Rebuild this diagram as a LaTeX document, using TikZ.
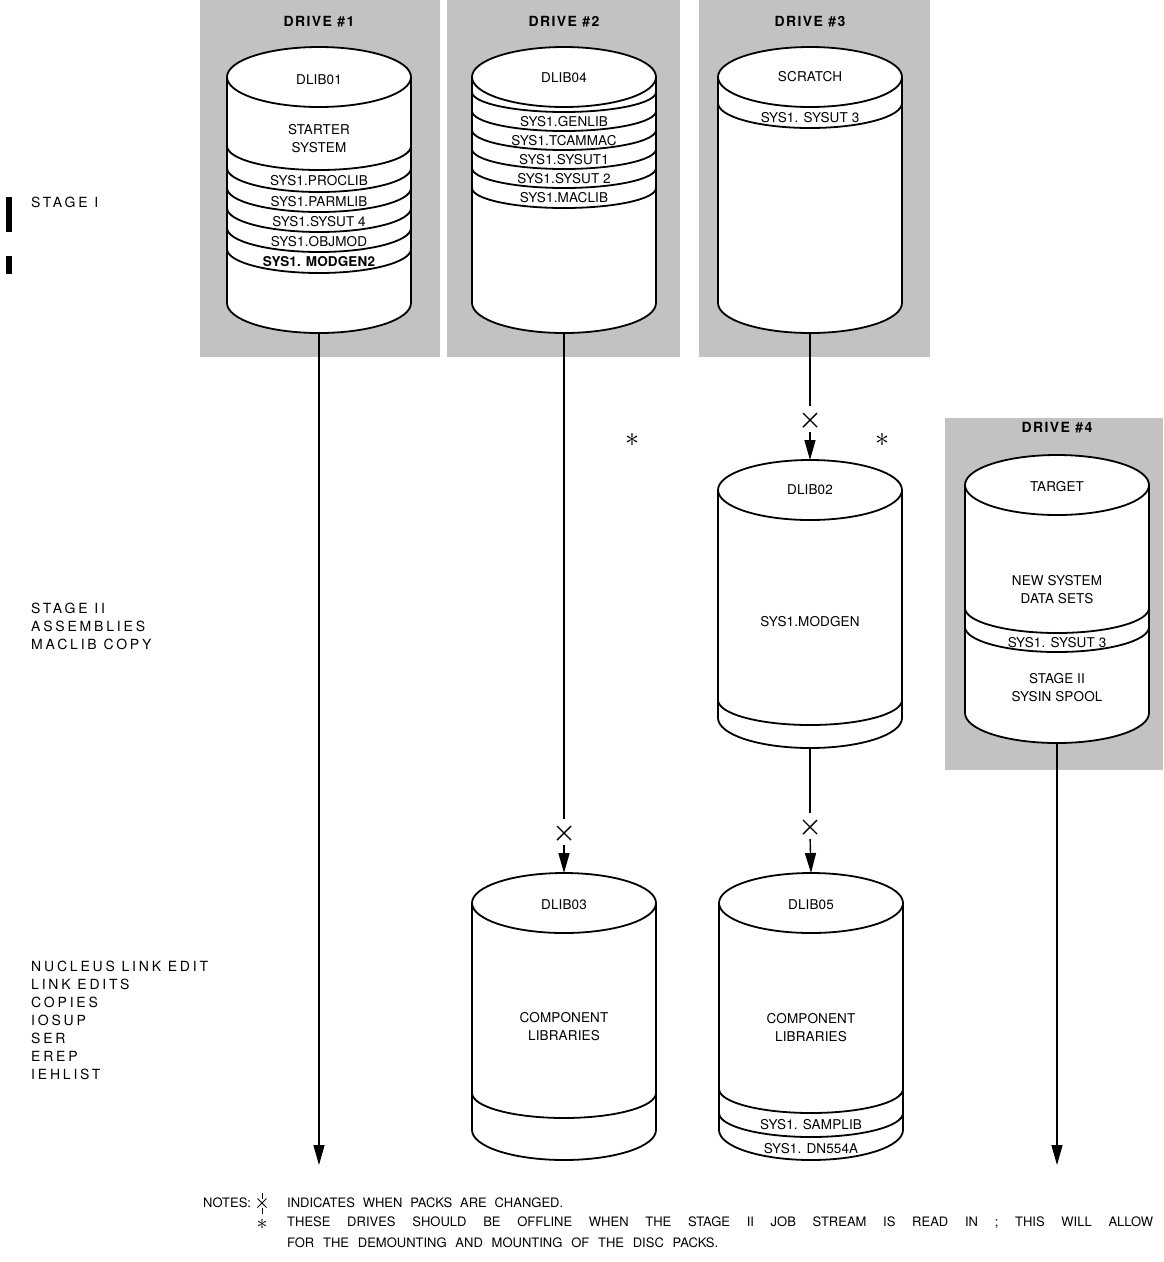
\documentclass[tikz,border=0pt]{standalone}
\usepackage{fontspec}
\setmainfont{TeX Gyre Heros}
\newfontfamily\lblfont[LetterSpace=20]{TeX Gyre Heros}
\newfontfamily\dskfont[LetterSpace=1]{TeX Gyre Heros}
\newfontfamily\drvfont[LetterSpace=10]{TeX Gyre Heros}
\usetikzlibrary{arrows.meta,shapes.misc}

\tikzset{
  drive/.style={fill=black!24},
  drumline/.style={line width=1.8pt},
  dsk/.style={font=\dskfont\fontsize{13.5}{18}\selectfont, align=center, inner sep=0pt},
  drv/.style={font=\drvfont\bfseries\fontsize{14}{16}\selectfont, inner sep=0pt},
  lbl/.style={anchor=west, align=left, inner sep=0pt, font=\lblfont\fontsize{14}{18}\selectfont},
  note/.style={anchor=west, inner sep=0pt, font=\fontsize{13}{15}\selectfont},
  link/.style={line width=1.4pt, shorten >=7pt},
  flow/.style={line width=1.4pt, -{Triangle[length=20pt,width=11pt]}},
  chg/.style={draw, cross out, line width=1.4pt, minimum size=14pt, inner sep=0pt, outer sep=0pt},
  ast/.style={inner sep=0pt}
}

\newcommand{\drum}[4]{%
  \filldraw[drumline,fill=white] (#2-92,-#3) -- (#2-92,-#4)
    arc[start angle=180,end angle=360,x radius=92,y radius=30] -- (#2+92,-#3)
    arc[start angle=0,end angle=180,x radius=92,y radius=30];
  \draw[drumline] (#2-92,-#3) arc[start angle=180,end angle=360,x radius=92,y radius=30];
  \coordinate (#1top) at (#2,-#3+30);
  \coordinate (#1bot) at (#2,-#4-30);
}
\newcommand{\band}[3]{%
  \draw[drumline] (#1-92,-#2) arc[start angle=180,end angle=360,x radius=92,y radius=#3];
}

\begin{document}
\begin{tikzpicture}[x=1pt,y=1pt]
\useasboundingbox (0,0) rectangle (1163,-1262);

\fill[drive] (200,0) rectangle (440,-357);
\fill[drive] (447,0) rectangle (680,-357);
\fill[drive] (699,0) rectangle (930,-357);
\fill[drive] (945,-418) rectangle (1163,-770);

\node[drv] (h1) at (319,-22) {DRIVE \#1};
\node[drv] (h2) at (564,-22) {DRIVE \#2};
\node[drv] (h3) at (810,-22) {DRIVE \#3};
\node[drv] (h4) at (1057,-428) {DRIVE \#4};

\fill (6,-197) rectangle (12,-232);
\fill (6,-256) rectangle (12,-274);
\node[lbl] (s1) at (31,-202) {STAGE I};
\node[lbl] (s2) at (31,-626) {STAGE II\\ASSEMBLIES\\MACLIB COPY};
\node[lbl] (s3) at (31,-1020) {NUCLEUS LINK EDIT\\LINK EDITS\\COPIES\\IOSUP\\SER\\EREP\\IEHLIST};

\drum{c1}{319}{77}{303}
\foreach \y in {146,168,188,208,228,249} {\band{319}{\y}{24}}
\node[dsk] (n1) at (319,-80) {DLIB01};
\node[dsk] (n1a) at (319,-139) {STARTER\\SYSTEM};
\node[dsk] (n1b) at (319,-181) {SYS1.PROCLIB};
\node[dsk] (n1c) at (319,-202) {SYS1.PARMLIB};
\node[dsk] (n1d) at (319,-222) {SYS1.SYSUT 4};
\node[dsk] (n1e) at (319,-242) {SYS1.OBJMOD};
\node[dsk,font=\dskfont\bfseries\fontsize{13.5}{18}\selectfont] (n1f) at (319,-262) {SYS1. MODGEN2};

\drum{c2}{564}{77}{303}
\foreach \y in {92,111,130,149,168,188} {\band{564}{\y}{20}}
\node[dsk] (n2) at (564,-78) {DLIB04};
\node[dsk] (n2a) at (564,-121.5) {SYS1.GENLIB};
\node[dsk] (n2b) at (564,-140.5) {SYS1.TCAMMAC};
\node[dsk] (n2c) at (564,-159.5) {SYS1.SYSUT1};
\node[dsk] (n2d) at (564,-178.5) {SYS1.SYSUT 2};
\node[dsk] (n2e) at (564,-198) {SYS1.MACLIB};

\drum{c3}{810}{77}{303}
\band{810}{103}{25}
\node[dsk] (n3) at (810,-77) {SCRATCH};
\node[dsk] (n3a) at (810,-117.5) {SYS1. SYSUT 3};

\drum{c4}{810}{490}{718}
\band{810}{700}{25}
\node[dsk] (n4) at (810,-490) {DLIB02};
\node[dsk] (n4a) at (810,-622) {SYS1.MODGEN};

\drum{c5}{564}{903}{1130}
\band{564}{1093}{25}
\node[dsk] (n5) at (564,-905) {DLIB03};
\node[dsk] (n5a) at (564,-1027) {COMPONENT\\LIBRARIES};

\drum{c6}{811}{903}{1130}
\band{811}{1089}{24}
\band{811}{1113}{24}
\node[dsk] (n6) at (811,-905) {DLIB05};
\node[dsk] (n6a) at (811,-1028) {COMPONENT\\LIBRARIES};
\node[dsk] (n6b) at (811,-1125) {SYS1. SAMPLIB};
\node[dsk] (n6c) at (811,-1148.5) {SYS1. DN554A};

\drum{c7}{1057}{485}{713}
\band{1057}{608}{25}
\band{1057}{627}{25}
\node[dsk] (n7) at (1057,-487) {TARGET};
\node[dsk] (n7a) at (1057,-590) {NEW SYSTEM\\DATA SETS};
\node[dsk] (n7b) at (1057,-642.5) {SYS1. SYSUT 3};
\node[dsk] (n7c) at (1057,-688) {STAGE II\\SYSIN SPOOL};

\node[chg] (x1) at (564,-833) {};
\node[chg] (x2) at (810,-420) {};
\node[chg] (x3) at (810,-827) {};
\node[ast] (a1) at (632,-440) {\scalebox{2.8}{$\ast$}};
\node[ast] (a2) at (882,-440) {\scalebox{2.8}{$\ast$}};

\coordinate (e1) at (319,-1165);
\coordinate (e4) at (1057,-1165);

\draw[flow] (c1bot) -- (e1);
\draw[link] (c2bot) -- (x1.north);
\draw[flow, shorten <=5pt] (x1.south) -- (c5top);
\draw[link] (c3bot) -- (x2.north);
\draw[flow, shorten <=5pt] (x2.south) -- (c4top);
\draw[link] (c4bot) -- (x3.north);
\draw[flow, shorten <=5pt] (x3.south) -- (c6top);
\draw[flow] (c7bot) -- (e4);

\node[note] (nt) at (203,-1203) {NOTES:};
\node[chg,minimum size=9pt,line width=1pt] (nx) at (262,-1203) {};
\draw[line width=0.8pt] (nx.north) -- ++(0,6);
\draw[line width=0.8pt] (nx.south) -- ++(0,-6);
\node[ast] (na) at (262,-1224) {\scalebox{2.2}{$\ast$}};
\node[note] (l1) at (287,-1203) {\makebox[276pt][s]{INDICATES WHEN PACKS ARE CHANGED.}};
\node[note] (l2) at (287,-1223) {\makebox[866pt][s]{THESE DRIVES SHOULD BE OFFLINE WHEN THE STAGE II JOB STREAM IS READ IN ; THIS WILL ALLOW}};
\node[note] (l3) at (287,-1243) {\makebox[431pt][s]{FOR THE DEMOUNTING AND MOUNTING OF THE DISC PACKS.}};
\end{tikzpicture}
\end{document}
